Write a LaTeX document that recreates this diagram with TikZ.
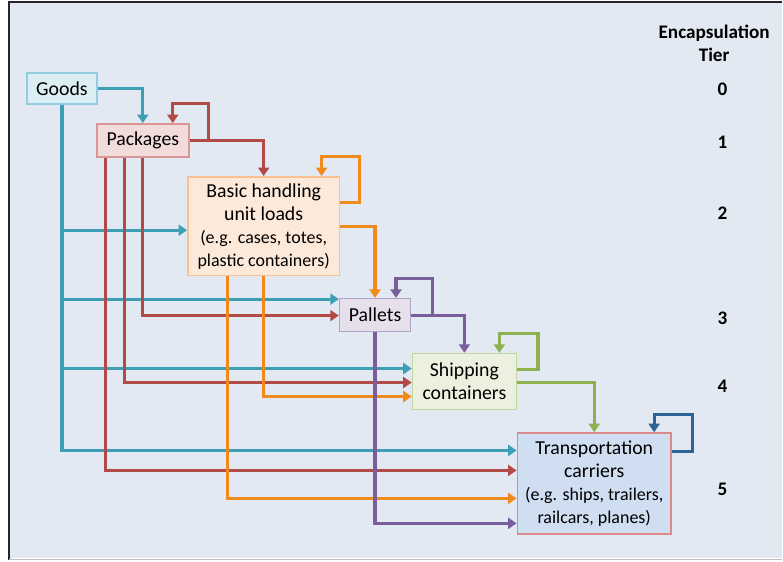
\documentclass[tikz,border=0pt]{standalone}
\usepackage{fontspec}
\setmainfont{Carlito}
\usepackage{tikz}
\usetikzlibrary{arrows.meta, positioning}

\definecolor{bgblue}{HTML}{E2E9F3}
\definecolor{goodsfill}{HTML}{DBEEF4}
\definecolor{goodsline}{HTML}{93CDDD}
\definecolor{packfill}{HTML}{F2DCDB}
\definecolor{packline}{HTML}{D99694}
\definecolor{basicfill}{HTML}{FDE9D9}
\definecolor{basicline}{HTML}{FAC08F}
\definecolor{palletfill}{HTML}{E6E0EC}
\definecolor{palletline}{HTML}{B3A2C7}
\definecolor{shipfill}{HTML}{EBF1DE}
\definecolor{shipline}{HTML}{C3D69B}
\definecolor{transfill}{HTML}{CFDEF1}
\definecolor{transline}{HTML}{DA8A88}
\definecolor{cteal}{HTML}{3E9EB4}
\definecolor{cred}{HTML}{B24B48}
\definecolor{corange}{HTML}{F08A1C}
\definecolor{cpurple}{HTML}{7A5E9C}
\definecolor{cgreen}{HTML}{8FB04E}
\definecolor{cblue}{HTML}{2D6297}

\tikzstyle{unit} = [rectangle, line width=1.5pt, inner sep=0pt, align=center, font=\fontsize{19.8}{23}\selectfont]
\tikzstyle{tier} = [font=\fontsize{19.2}{23}\selectfont\bfseries, align=center]
\tikzstyle{link} = [line width=3.2pt, -{Triangle[width=11pt,length=8.5pt]}]
\newcommand{\subtext}{\fontsize{18}{20}\selectfont}

\begin{document}
\begin{tikzpicture}[x=1pt, y=1pt, node distance=52pt]

% Background
\fill[white] (0,0) rectangle (783,-561);
\fill[bgblue] (9,-2) rectangle (783,-559);
\draw[black!85, line width=2pt] (9,-561) -- (9,-2) -- (783,-2);
\draw[black!25, line width=1pt] (9,-560) -- (783,-560);

% Units
\node (goods) [unit, draw=goodsline, fill=goodsfill, minimum width=70pt, minimum height=31pt] at (62,-88.5) {Goods};
\node (packages) [unit, draw=packline, fill=packfill, minimum width=92pt, minimum height=33pt, below of=goods, xshift=81pt] {Packages};
\node (basic) [unit, draw=basicline, fill=basicfill, minimum width=152pt, minimum height=99pt, below of=packages, xshift=121pt, yshift=-34pt] {Basic handling\\unit loads\\\subtext (e.g. cases, totes,\\\subtext plastic containers)};
\node (pallets) [unit, draw=palletline, fill=palletfill, minimum width=71pt, minimum height=33pt, below of=basic, xshift=111.5pt, yshift=-37pt] {Pallets};
\node (shipping) [unit, draw=shipline, fill=shipfill, minimum width=104pt, minimum height=56pt, below of=pallets, xshift=89.5pt, yshift=-14.5pt] {Shipping\\containers};
\node (transport) [unit, draw=transline, fill=transfill, minimum width=154pt, minimum height=101pt, below of=shipping, xshift=130pt, yshift=-50pt] {Transportation\\carriers\\\subtext (e.g. ships, trailers,\\\subtext railcars, planes)};

% Tier labels
\node (header) [tier] at (715,-43) {Encapsulation\\Tier};
\node (tier0) [tier] at (723.5,-89) {0};
\node (tier1) [tier] at (723.5,-142) {1};
\node (tier2) [tier] at (723.5,-213) {2};
\node (tier3) [tier] at (723.5,-319) {3};
\node (tier4) [tier] at (723.5,-387) {4};
\node (tier5) [tier] at (723.5,-490) {5};

% Goods
\draw [link, cteal] (goods.east) -| (packages.north);
\draw [link, cteal] (goods.south) |- ([yshift=-4pt]basic.west);
\draw [link, cteal] (goods.south) |- ([yshift=16pt]pallets.west);
\draw [link, cteal] (goods.south) |- ([yshift=13pt]shipping.west);
\draw [link, cteal] (goods.south) |- ([yshift=33pt]transport.west);

% Packages
\draw [link, cred] (packages.east) -- ++(19,0) -- ++(0,37) -| ([xshift=30pt]packages.north);
\draw [link, cred] (packages.east) -| (basic.north);
\draw [link, cred] (packages.south) |- ([yshift=-0.5pt]pallets.west);
\draw [link, cred] ([xshift=-18pt]packages.south) |- ([yshift=-1pt]shipping.west);
\draw [link, cred] ([xshift=-37pt]packages.south) |- ([yshift=13pt]transport.west);

% Basic handling unit loads
\draw [link, corange] ([yshift=23.5pt]basic.east) -- ++(19,0) -- ++(0,46) -| ([xshift=58pt]basic.north);
\draw [link, corange] ([yshift=-0.5pt]basic.east) -| (pallets.north);
\draw [link, corange] (basic.south) |- ([yshift=-15pt]shipping.west);
\draw [link, corange] ([xshift=-36pt]basic.south) |- ([yshift=-15pt]transport.west);

% Pallets
\draw [link, cpurple] (pallets.east) -- ++(21,0) -- ++(0,37) -| ([xshift=21pt]pallets.north);
\draw [link, cpurple] (pallets.east) -| (shipping.north);
\draw [link, cpurple] (pallets.south) |- ([yshift=-40pt]transport.west);

% Shipping containers
\draw [link, cgreen] ([yshift=12pt]shipping.east) -- ++(21,0) -- ++(0,36) -| ([xshift=35pt]shipping.north);
\draw [link, cgreen] ([yshift=-1pt]shipping.east) -| (transport.north);

% Transportation carriers
\draw [link, cblue] ([yshift=32pt]transport.east) -- ++(21,0) -- ++(0,37) -| ([xshift=60pt]transport.north);

\end{tikzpicture}
\end{document}
